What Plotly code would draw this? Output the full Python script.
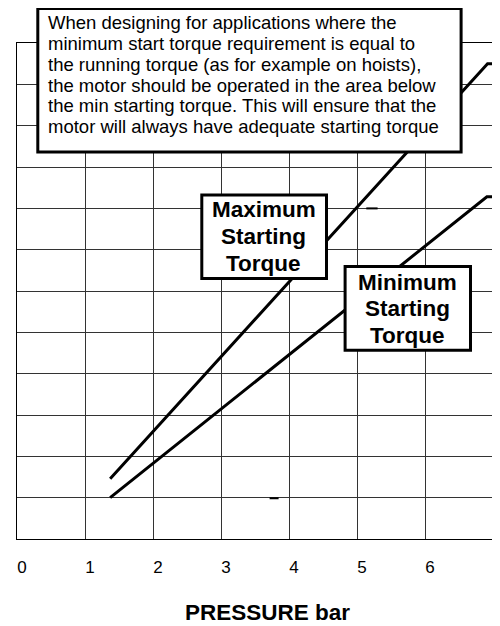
import plotly.graph_objects as go

# Data
pressure_max = [1.37, 6.92, 7.0]
torque_max = [1.46, 11.5, 11.5]
pressure_min = [1.37, 6.91, 7.0]
torque_min = [1.0, 8.28, 8.28]
x_ticks = [0, 1, 2, 3, 4, 5, 6, 7]
x_tick_labels = ["0", "1", "2", "3", "4", "5", "6", "7"]

note_lines = ["When designing for applications where the",
              "minimum start torque requirement is equal to",
              "the running torque (as for example on hoists),",
              "the motor should be operated in the area below",
              "the min starting torque. This will ensure that the",
              "motor will always have adequate starting torque"]
max_label_lines = ["Maximum", "Starting", "Torque"]
min_label_lines = ["Minimum", "Starting", "Torque"]
axis_title = "PRESSURE bar"

FONT = "Arial, Liberation Sans, sans-serif"

# page is shown with an 8px body margin
OFF = 8
W, H = 500 - OFF, 626 - OFF
# plot area in page pixels
L, R, T, B = 16.7, 492.7, 42.7, 539.3
TICK_SHIFT = 5


def px(xp):
    return (xp - L) / (R - L)


def py(yp):
    return (B - yp) / (B - T)


fig = go.Figure()
fig.add_trace(go.Scatter(x=pressure_max, y=torque_max, mode="lines",
                         line=dict(color="black", width=3), showlegend=False,
                         hoverinfo="skip"))
fig.add_trace(go.Scatter(x=pressure_min, y=torque_min, mode="lines",
                         line=dict(color="black", width=3), showlegend=False,
                         hoverinfo="skip"))


def box(x0, y0, x1, y1):
    fig.add_shape(type="rect", xref="paper", yref="paper",
                  x0=px(x0 + 1.5), x1=px(x1 - 1.5), y0=py(y0 + 1.5), y1=py(y1 - 1.5),
                  line=dict(color="black", width=3), fillcolor="white", layer="above")


def text_line(txt, x, baseline, size, bold=False, anchor="left"):
    t = f"<b>{txt}</b>" if bold else txt
    fig.add_annotation(text=t, xref="paper", yref="paper",
                       x=px(x), y=py(baseline - 0.35 * size),
                       xanchor=anchor, yanchor="middle", showarrow=False,
                       borderpad=0, borderwidth=0,
                       font=dict(family=FONT, size=size, color="black"))


# explanatory note box
box(36, 6.7, 462.3, 153.3)
for i, line in enumerate(note_lines):
    text_line(line, 47.5, 29 + 20.8 * i, 18.5)

# maximum starting torque label
box(200, 193.3, 327.7, 280)
for i, line in enumerate(max_label_lines):
    text_line(line, 263.6, 217.7 + 26.6 * i, 22.5, bold=True, anchor="center")

# minimum starting torque label
box(343.3, 265, 471.7, 351.7)
for i, line in enumerate(min_label_lines):
    text_line(line, 406.8, 290 + 26.6 * i, 22.5, bold=True, anchor="center")

# axis title
text_line(axis_title, 266.7, 621, 22.5, bold=True, anchor="center")

# last tick label sits at the very page edge -> draw it as text flush with the edge
text_line(x_tick_labels[-1], 500.5, 572.3, 17, anchor="right")

# small stray marks present in the original
fig.add_shape(type="line", xref="paper", yref="paper",
              x0=px(269.3), x1=px(278.3), y0=py(498.5), y1=py(498.5),
              line=dict(color="black", width=2))
fig.add_shape(type="line", xref="paper", yref="paper",
              x0=px(366), x1=px(377.3), y0=py(208.3), y1=py(208.3),
              line=dict(color="black", width=2))

fig.update_layout(
    width=W, height=H,
    margin=dict(l=L - OFF, r=(W + OFF) - R, t=T - OFF, b=(H + OFF) - B, pad=0),
    paper_bgcolor="white", plot_bgcolor="white",
    font=dict(family=FONT, color="black"),
    xaxis=dict(range=[0, 7], tickvals=x_ticks[:-1], ticktext=x_tick_labels[:-1],
               showgrid=True, gridcolor="#333333", gridwidth=1,
               showline=True, linecolor="black", linewidth=1, mirror=True,
               zeroline=False, ticks="", ticklabelstandoff=13, ticklabelshift=TICK_SHIFT,
               tickfont=dict(family=FONT, size=17, color="black"), fixedrange=True),
    yaxis=dict(range=[0, 12], dtick=1, showticklabels=False,
               showgrid=True, gridcolor="#333333", gridwidth=1,
               showline=True, linecolor="black", linewidth=1, mirror=True,
               zeroline=False, ticks="", fixedrange=True),
)

fig.write_html("out.html")
